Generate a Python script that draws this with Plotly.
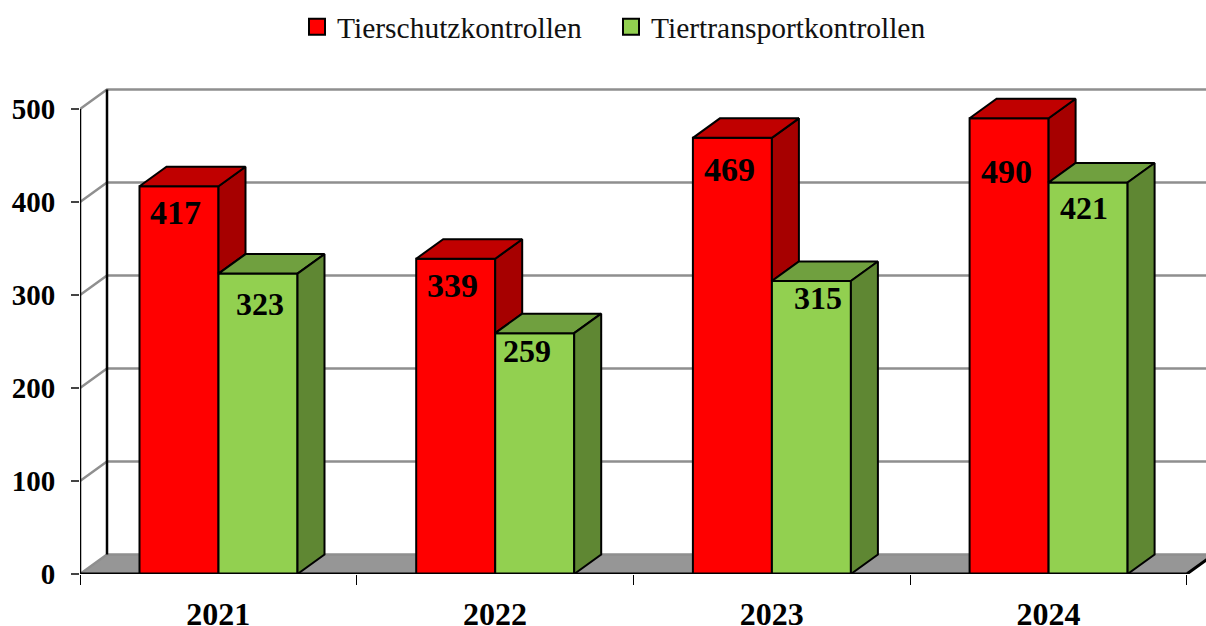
import plotly.graph_objects as go

years = ["2021", "2022", "2023", "2024"]
tierschutz = [417, 339, 469, 490]
tiertransport = [323, 259, 315, 421]
y_ticks = [0, 100, 200, 300, 400, 500]

# label nudges (pixels)
red_dx = [-4, -3, -3, -3]
red_dy = [-26, -27, -32, -53]
green_dx = [2, -8, 7, -4]
green_dy = [-30, -18, -17, -26]

W, H = 1206, 626
X0, Y0 = 80, 574
CAT_PX = 276.7
VAL_PX = 0.93
TOP = 70
DX = 27 / CAT_PX
DY = 19.5 / VAL_PX
BAR = 79 / CAT_PX
GAP = 59.5 / CAT_PX
XMAX = (W - X0) / CAT_PX
YMAX = (Y0 - TOP) / VAL_PX
FONT = "Liberation Serif"

RED, RED_TOP, RED_SIDE = "#ff0000", "#c00000", "#a60000"
GRN, GRN_TOP, GRN_SIDE = "#92d050", "#70a03f", "#5f8733"


def poly(pts_list):
    xs, ys = [], []
    for pts in pts_list:
        xs += [p[0] for p in pts] + [pts[0][0], None]
        ys += [p[1] for p in pts] + [pts[0][1], None]
    return xs, ys


def face(pts_list, color):
    xs, ys = poly(pts_list)
    return go.Scatter(x=xs, y=ys, mode="lines", fill="toself", fillcolor=color,
                      line=dict(color="black", width=2), showlegend=False, hoverinfo="skip")


n = len(years)
red_left = [i + GAP for i in range(n)]
mid = [l + BAR for l in red_left]
right = [m + BAR for m in mid]

fig = go.Figure()

# front faces
fig.add_trace(go.Bar(x=[l + BAR / 2 for l in red_left], y=tierschutz, width=BAR,
                     marker=dict(color=RED, line=dict(color="black", width=2)),
                     showlegend=False, hoverinfo="skip"))
fig.add_trace(go.Bar(x=[m + BAR / 2 for m in mid], y=tiertransport, width=BAR,
                     marker=dict(color=GRN, line=dict(color="black", width=2)),
                     showlegend=False, hoverinfo="skip"))

# tops and sides
fig.add_trace(face([[(m, g), (m, r), (m + DX, r + DY), (m + DX, g + DY)]
                    for m, r, g in zip(mid, tierschutz, tiertransport)], RED_SIDE))
fig.add_trace(face([[(l, r), (m, r), (m + DX, r + DY), (l + DX, r + DY)]
                    for l, m, r in zip(red_left, mid, tierschutz)], RED_TOP))
fig.add_trace(face([[(m, g), (e, g), (e + DX, g + DY), (m + DX, g + DY)]
                    for m, e, g in zip(mid, right, tiertransport)], GRN_TOP))
fig.add_trace(face([[(e, 0), (e, g), (e + DX, g + DY), (e + DX, DY)]
                    for e, g in zip(right, tiertransport)], GRN_SIDE))

# legend entries
for name, color in [("Tierschutzkontrollen", RED), ("Tiertransportkontrollen", GRN)]:
    fig.add_trace(go.Scatter(x=[None], y=[None], mode="markers", name=name,
                             marker=dict(symbol="square", size=16, color=color,
                                         line=dict(color="black", width=2))))

shapes = [dict(type="path", layer="below", xref="x", yref="y",
               path=f"M0,0 L{n},0 L{n + DX},{DY} L{DX},{DY} Z",
               fillcolor="#969696", line=dict(width=0))]
for t in y_ticks:
    shapes.append(dict(type="path", layer="below", xref="x", yref="y",
                       path=f"M0,{t} L{DX},{t + DY} L{XMAX},{t + DY}",
                       line=dict(color="#8f8f8f", width=2.5)))
shapes.append(dict(type="line", layer="below", xref="x", yref="y",
                   x0=DX, x1=DX, y0=DY, y1=500 + DY, line=dict(color="black", width=2.5)))
# front vertical axis stops at the 500 tick
shapes.append(dict(type="line", layer="below", xref="x", yref="y", x0=0, x1=0, y0=0, y1=500,
                   line=dict(color="black", width=2.5)))
# front floor edge and its slanted end
shapes.append(dict(type="path", layer="above", xref="x", yref="y",
                   path=f"M0,0 L{n},0 L{n + DX},{DY}", line=dict(color="black", width=3)))

annotations = []
for i in range(n):
    annotations.append(dict(x=red_left[i] + BAR / 2, y=tierschutz[i], text=f"<b>{tierschutz[i]}</b>",
                            showarrow=False, xshift=red_dx[i], yshift=red_dy[i],
                            font=dict(family=FONT, size=34, color="black")))
    annotations.append(dict(x=mid[i] + BAR / 2, y=tiertransport[i], text=f"<b>{tiertransport[i]}</b>",
                            showarrow=False, xshift=green_dx[i], yshift=green_dy[i],
                            font=dict(family=FONT, size=32, color="black")))

fig.update_layout(
    width=W, height=H, autosize=False, barmode="overlay",
    paper_bgcolor="white", plot_bgcolor="white",
    margin=dict(l=X0, r=0, t=TOP, b=H - Y0, pad=0, autoexpand=False),
    font=dict(family=FONT, color="black"),
    shapes=shapes, annotations=annotations,
    legend=dict(orientation="h", xref="container", yref="container", x=297 / W, y=1 - 1 / H,
                xanchor="left", yanchor="top", font=dict(family=FONT, size=29.5, color="#111111"),
                entrywidth=269, entrywidthmode="pixels",
                itemsizing="trace", bgcolor="rgba(0,0,0,0)"),
    xaxis=dict(range=[0, XMAX], tickmode="array", tickvals=[i + 0.5 for i in range(n)],
               ticktext=[f"<b>{y}</b>" for y in years], ticks="", showgrid=False, zeroline=False,
               showline=False,
               tickfont=dict(family=FONT, size=32, color="black"), ticklabelstandoff=18,
               minor=dict(tickmode="array", tickvals=list(range(n + 1)), ticks="outside",
                          ticklen=10, tickcolor="black", tickwidth=1, showgrid=False)),
    yaxis=dict(range=[0, YMAX], tickmode="array", tickvals=y_ticks,
               ticktext=[f"<b>{t}</b>" for t in y_ticks], ticks="outside", ticklen=8,
               tickcolor="#444444", tickwidth=1.5, showgrid=False, zeroline=False, showline=False,
               tickfont=dict(family=FONT, size=29, color="black"), ticklabelstandoff=10),
)

fig.write_html("out.html", config={"displayModeBar": False},
               post_script="document.body.style.margin='0';")
